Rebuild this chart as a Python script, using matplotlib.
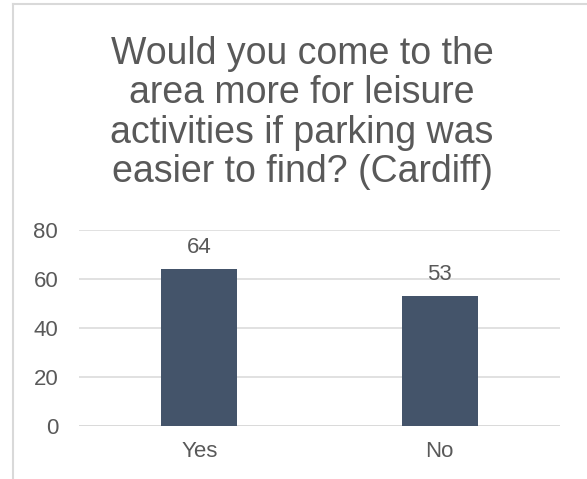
import matplotlib.pyplot as plt
from matplotlib.lines import Line2D

categories = ["Yes", "No"]
values = [64, 53]
yticks = [0, 20, 40, 60, 80]
title = "Would you come to the\narea more for leisure\nactivities if parking was\neasier to find? (Cardiff)"

plt.rcParams['font.family'] = ['Liberation Sans', 'DejaVu Sans']
text_color = "#595959"
grid_color = "#D9D9D9"

fig = plt.figure(figsize=(5.87, 4.79), dpi=100)
ax = fig.add_axes([79 / 587, 53 / 479, 481 / 587, 196 / 479])

x = range(len(categories))
bars = ax.bar(x, values, width=0.316, color="#44546A", zorder=3)
for b, v in zip(bars, values):
    ax.annotate(str(v), (b.get_x() + b.get_width() / 2, v), xytext=(0, 8),
                textcoords="offset points", ha="center", va="bottom",
                fontsize=16, color=text_color)

ax.set_xlim(-0.5, len(categories) - 0.5)
ax.set_ylim(0, 80)
ax.set_yticks(yticks)
ax.set_xticks(list(x))
ax.set_xticklabels(categories)
ax.tick_params(axis="both", length=0, labelsize=16, labelcolor=text_color)
ax.tick_params(axis="y", pad=15)
ax.tick_params(axis="x", pad=11)
ax.yaxis.grid(True, color=grid_color, linewidth=1.1, zorder=0)
ax.set_axisbelow(True)
for s in ax.spines.values():
    s.set_visible(False)
ax.axhline(0, color=grid_color, linewidth=1.1, zorder=1)

fig.text(302 / 587, 1 - 113 / 479, title, ha="center", va="center",
         fontsize=27, color=text_color, linespacing=1.12)

# frame edges of the original chart area
fig.add_artist(Line2D([13 / 587, 13 / 587], [0, 1 - 4 / 479], color=grid_color, linewidth=1.5))
fig.add_artist(Line2D([13 / 587, 1], [1 - 4 / 479, 1 - 4 / 479], color=grid_color, linewidth=1.5))

fig.savefig("out.png", dpi=100)
